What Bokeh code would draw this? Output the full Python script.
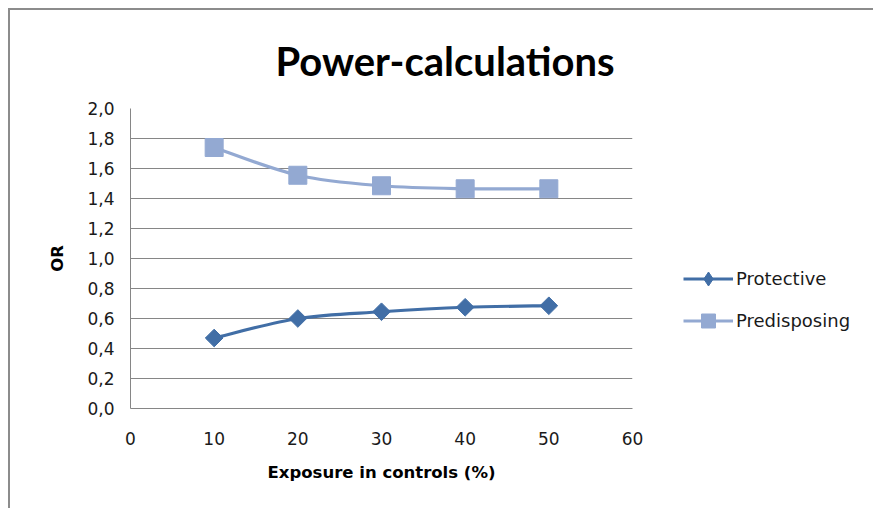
import math
from bokeh.plotting import figure
from bokeh.models import (Range1d, Legend, LegendItem, CustomJSTickFormatter,
                          FixedTicker, ColumnDataSource)
from bokeh.embed import file_html
from bokeh.resources import INLINE

exposure = [10, 20, 30, 40, 50]
protective = [0.47, 0.60, 0.645, 0.675, 0.685]
predisposing = [1.74, 1.555, 1.485, 1.465, 1.465]
x_ticks = [0, 10, 20, 30, 40, 50, 60]
y_ticks = [0.0, 0.2, 0.4, 0.6, 0.8, 1.0, 1.2, 1.4, 1.6, 1.8, 2.0]

title_text = "Power-calculations"
x_label = "Exposure in controls (%)"
y_label = "OR"
names = ["Protective", "Predisposing"]
colors = ["#416ea6", "#93a9d2"]

FONT = "DejaVu Sans"
TITLE_FONT = "Lato"
NAN = float("nan")

p = figure(frame_width=502, frame_height=300, output_backend="svg", toolbar_location=None,
           x_range=Range1d(0, 60), y_range=Range1d(0, 2),
           min_border_left=120, min_border_right=241, min_border_top=98,
           min_border_bottom=100, title=title_text)
p.styles = {"margin-left": "8px", "margin-top": "8px",
            "border-left": "2px solid #8c8c8c", "border-top": "2px solid #8c8c8c"}
p.outline_line_color = None
p.background_fill_color = "white"
p.border_fill_color = "white"

p.title.align = "left"
p.title.offset = 145
p.title.standoff = 48
p.title.text_font = TITLE_FONT
p.title.text_font_size = "40px"
p.title.text_font_style = "bold"
p.title.text_color = "black"

p.xgrid.grid_line_color = None
p.ygrid.grid_line_color = "#868686"
p.ygrid.grid_line_width = 1
p.yaxis.ticker = FixedTicker(ticks=y_ticks)
p.xaxis.ticker = FixedTicker(ticks=x_ticks)
p.yaxis.formatter = CustomJSTickFormatter(code="return tick.toFixed(1).replace('.', ',');")
for ax in (p.xaxis, p.yaxis):
    ax.axis_line_color = "#868686"
    ax.major_tick_line_color = None
    ax.minor_tick_line_color = None
    ax.major_label_text_font = FONT
    ax.major_label_text_font_size = "17px"
    ax.major_label_text_color = "#1a1a1a"
    ax.axis_label_text_font = FONT
    ax.axis_label_text_font_size = "16.5px"
    ax.axis_label_text_font_style = "bold"
    ax.axis_label_text_color = "black"
p.yaxis.major_label_standoff = 10
p.xaxis.major_label_standoff = 17
p.xaxis.axis_label = x_label
p.yaxis.axis_label = y_label
p.xaxis.axis_label_standoff = 15
p.yaxis.axis_label_standoff = 17


def smooth_segments(xs, ys):
    n = len(xs)
    x0, y0, x1, y1, cx0, cy0, cx1, cy1 = [], [], [], [], [], [], [], []
    for i in range(n - 1):
        pxm = xs[i - 1] if i > 0 else xs[i]
        pym = ys[i - 1] if i > 0 else ys[i]
        pxp = xs[i + 2] if i + 2 < n else xs[i + 1]
        pyp = ys[i + 2] if i + 2 < n else ys[i + 1]
        x0.append(xs[i]); y0.append(ys[i])
        x1.append(xs[i + 1]); y1.append(ys[i + 1])
        cx0.append(xs[i] + (xs[i + 1] - pxm) / 6.0)
        cy0.append(ys[i] + (ys[i + 1] - pym) / 6.0)
        cx1.append(xs[i + 1] - (pxp - xs[i]) / 6.0)
        cy1.append(ys[i + 1] - (pyp - ys[i]) / 6.0)
    return dict(x0=x0, y0=y0, x1=x1, y1=y1, cx0=cx0, cy0=cy0, cx1=cx1, cy1=cy1)


legend_items = []
for name, ys, color, marker, size, angle, legend_marker in [
        (names[0], protective, colors[0], "square", 12.5, math.pi / 4, "diamond"),
        (names[1], predisposing, colors[1], "square", 18, 0.0, "square")]:
    src = ColumnDataSource(smooth_segments(exposure, ys))
    p.bezier(x0="x0", y0="y0", x1="x1", y1="y1", cx0="cx0", cy0="cy0",
             cx1="cx1", cy1="cy1", source=src, line_color=color, line_width=3.2)
    p.scatter(exposure, ys, marker=marker, size=size, angle=angle,
              fill_color=color, line_color=color)
    l2 = p.line([NAN], [NAN], line_color=color, line_width=3.2)
    s2 = p.scatter([NAN], [NAN], marker=legend_marker, size=size,
                   fill_color=color, line_color=color)
    legend_items.append(LegendItem(label=name, renderers=[l2, s2]))

legend = Legend(items=legend_items, location=(51, 70), border_line_color=None,
                background_fill_alpha=0, label_text_font=FONT,
                label_text_font_size="18px", label_text_color="#1a1a1a",
                glyph_width=50, glyph_height=35, label_standoff=3, spacing=7,
                padding=0, margin=0)
p.add_layout(legend, "right")

open("out.html", "w").write(file_html(p, INLINE))
